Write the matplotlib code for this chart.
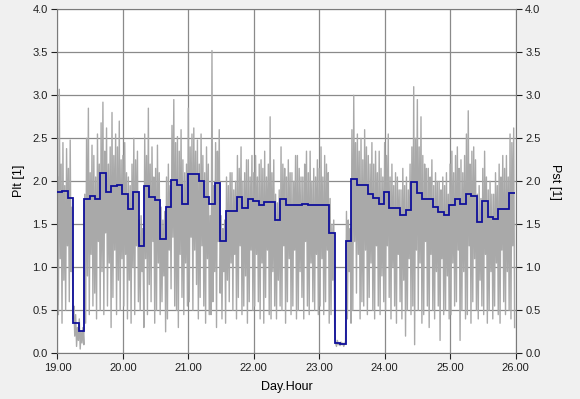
import numpy as np
from matplotlib import pyplot as plt

# Pst, one value per 20 minutes, one list per day (19.00 .. 25.xx)
pst_day19 = [2.05, 0.45, 3.07, 1.10, 2.20, 0.35, 2.45, 0.85, 1.95, 0.50, 2.38, 1.25,
             2.15, 0.60, 2.48, 0.95, 1.70, 0.40, 0.55, 0.20, 0.45, 0.08, 0.30, 0.15,
             0.40, 0.05, 0.25, 0.12, 0.30, 0.10, 1.85, 0.35, 2.50, 0.90, 2.85, 0.45,
             2.10, 1.15, 2.42, 0.55, 2.30, 0.70, 2.05, 0.40, 2.55, 1.30, 2.20, 0.50,
             2.68, 0.95, 2.92, 0.45, 2.35, 1.40, 2.62, 0.55, 2.20, 1.05, 2.40, 0.30,
             2.80, 0.65, 2.30, 1.20, 2.55, 0.45, 2.40, 0.85, 2.70, 0.50, 2.25, 1.10]
pst_day20 = [2.30, 0.55, 2.45, 1.15, 2.10, 0.40, 2.05, 0.85, 1.95, 0.35, 2.20, 1.00,
             2.50, 0.45, 2.25, 1.25, 2.35, 0.60, 1.55, 0.50, 1.60, 0.95, 1.45, 0.30,
             2.55, 1.10, 2.30, 0.45, 2.85, 0.80, 2.20, 0.60, 2.40, 1.30, 2.05, 0.35,
             2.15, 0.50, 2.42, 1.05, 2.10, 0.45, 1.70, 0.60, 1.55, 0.90, 1.65, 0.25,
             2.05, 0.40, 2.20, 1.20, 1.95, 0.75, 2.65, 1.35, 2.95, 0.55, 2.45, 0.50,
             2.52, 0.30, 2.35, 1.15, 2.60, 0.65, 2.25, 0.45, 2.10, 1.05, 2.20, 0.55]
pst_day21 = [2.85, 0.60, 2.40, 1.35, 2.55, 0.50, 2.62, 1.20, 2.35, 0.80, 2.48, 0.40,
             2.20, 0.65, 2.55, 1.25, 2.30, 0.55, 2.10, 0.35, 2.40, 1.10, 2.20, 0.45,
             1.60, 0.45, 3.52, 0.60, 1.95, 0.95, 2.45, 0.30, 2.35, 1.30, 2.60, 0.70,
             1.60, 0.40, 1.45, 0.95, 1.55, 0.35, 2.05, 0.85, 1.95, 0.60, 2.10, 1.05,
             2.10, 0.50, 1.90, 1.15, 2.00, 0.40, 2.30, 0.65, 2.15, 1.25, 2.40, 0.45,
             2.00, 0.55, 2.10, 0.90, 2.25, 0.35, 2.25, 0.60, 2.05, 1.20, 2.30, 0.50]
pst_day22 = [2.10, 0.55, 2.30, 1.15, 2.05, 0.60, 2.20, 0.40, 2.25, 1.05, 2.15, 0.35,
             2.35, 0.65, 2.05, 1.20, 2.20, 0.45, 2.75, 0.40, 2.10, 0.95, 2.25, 0.55,
             1.85, 0.40, 1.75, 0.85, 1.90, 0.55, 2.40, 0.50, 2.20, 1.25, 2.15, 0.35,
             2.05, 0.60, 2.25, 1.10, 2.10, 0.45, 2.10, 0.55, 2.00, 1.20, 2.30, 0.40,
             2.30, 0.50, 2.15, 0.95, 2.05, 0.65, 2.05, 0.40, 2.20, 1.30, 2.35, 0.55,
             2.10, 0.45, 2.35, 1.05, 2.00, 0.60, 2.15, 0.50, 2.05, 1.15, 2.25, 0.45]
pst_day23 = [2.15, 0.55, 2.40, 1.10, 2.05, 0.45, 2.30, 0.60, 2.20, 1.20, 2.10, 0.35,
             1.80, 0.45, 1.50, 0.85, 1.55, 0.30, 0.12, 0.08, 0.15, 0.10, 0.11, 0.09,
             0.13, 0.10, 0.12, 0.08, 0.11, 0.14, 1.65, 0.40, 1.55, 0.95, 1.45, 0.35,
             2.60, 0.50, 3.00, 1.30, 2.45, 0.70, 2.55, 1.15, 2.35, 0.40, 2.50, 0.60,
             2.25, 0.55, 2.60, 1.20, 2.40, 0.45, 2.30, 0.65, 2.20, 1.05, 2.45, 0.50,
             2.20, 0.40, 2.35, 1.25, 2.10, 0.55, 2.35, 0.45, 2.15, 0.90, 2.05, 0.60]
pst_day24 = [2.45, 0.50, 2.30, 1.25, 2.55, 0.65, 2.05, 0.40, 2.20, 1.00, 1.95, 0.55,
             2.10, 0.35, 2.05, 1.15, 1.90, 0.60, 1.90, 0.40, 2.15, 0.85, 1.95, 0.20,
             2.05, 0.50, 1.90, 1.10, 2.20, 0.45, 2.40, 0.55, 3.10, 0.10, 2.50, 1.20,
             2.95, 0.50, 2.40, 1.05, 2.75, 0.35, 2.30, 0.45, 2.20, 1.30, 2.15, 0.55,
             2.15, 0.30, 2.05, 1.15, 2.25, 0.50, 1.95, 0.40, 2.10, 0.95, 2.00, 0.55,
             2.00, 0.15, 1.90, 1.10, 2.05, 0.45, 1.95, 0.50, 2.10, 0.90, 1.85, 0.40]
pst_day25 = [2.20, 0.45, 2.35, 1.05, 2.10, 0.55, 2.30, 0.60, 2.40, 1.20, 2.15, 0.15,
             2.25, 0.50, 2.10, 0.95, 2.30, 0.40, 2.55, 0.45, 2.82, 1.25, 2.20, 0.35,
             2.35, 0.60, 2.40, 1.10, 2.25, 0.50, 1.85, 0.40, 1.95, 0.85, 1.80, 0.55,
             2.15, 0.45, 2.35, 1.15, 2.05, 0.35, 1.90, 0.50, 2.00, 0.95, 1.85, 0.40,
             1.85, 0.55, 2.10, 1.05, 1.95, 0.45, 2.20, 0.35, 2.05, 1.20, 2.30, 0.60,
             2.15, 0.45, 2.30, 0.95, 2.05, 0.50, 2.55, 0.40, 2.45, 1.25, 2.62, 0.30]

# Plt, one value per 2 hour block, first block starts 19.00 - 0.25 h
plt_values = [1.88, 1.89, 1.81, 0.35, 0.26, 1.80, 1.83, 1.80, 2.10, 1.87, 1.94, 1.96,
              1.85, 1.68, 1.88, 1.25, 1.94, 1.82, 1.78, 1.33, 1.70, 2.02, 1.96, 1.74,
              2.08, 2.08, 2.00, 1.82, 1.74, 1.98, 1.31, 1.65, 1.65, 1.82, 1.69, 1.79,
              1.77, 1.72, 1.76, 1.76, 1.55, 1.79, 1.72, 1.72, 1.72, 1.74, 1.72, 1.73,
              1.72, 1.73, 1.40, 0.12, 0.11, 1.31, 2.03, 1.96, 1.96, 1.85, 1.81, 1.74,
              1.88, 1.69, 1.69, 1.61, 1.67, 1.99, 1.86, 1.80, 1.80, 1.70, 1.64, 1.61,
              1.73, 1.79, 1.74, 1.85, 1.83, 1.53, 1.77, 1.58, 1.56, 1.68, 1.68, 1.86]

x_ticks = [19, 20, 21, 22, 23, 24, 25, 26]
x_tick_labels = ["19.00", "20.00", "21.00", "22.00", "23.00", "24.00", "25.00", "26.00"]
y_ticks = [0.0, 0.5, 1.0, 1.5, 2.0, 2.5, 3.0, 3.5, 4.0]

plt.rcParams["font.family"] = ["Liberation Sans", "DejaVu Sans"]

pst = pst_day19 + pst_day20 + pst_day21 + pst_day22 + pst_day23 + pst_day24 + pst_day25
pst_time = 19 + np.arange(len(pst)) * (20 / 60) / 24
plt_edges = 19 + (np.arange(len(plt_values) + 1) * 2 - 0.25) / 24

fig = plt.figure(figsize=(5.8, 3.99), dpi=100, facecolor="#f0f0f0")
ax = fig.add_axes([0.0991, 0.1145, 0.7897, 0.8622])
ax.set_facecolor("white")

ax.plot(pst_time, pst, color="#a9a9a9", lw=1.0, zorder=2)
ax.stairs(plt_values, plt_edges, baseline=None, color="#10109a", lw=1.3, zorder=3)

ax.set_xlim(19, 26)
ax.set_ylim(0, 4)
ax.set_xticks(x_ticks)
ax.set_xticklabels(x_tick_labels)
ax.set_yticks(y_ticks)
ax.set_yticklabels([f"{v:.1f}" for v in y_ticks])

ax.grid(True, color="#8a8a8a", lw=0.9)
ax.set_axisbelow(True)
for spine in ax.spines.values():
    spine.set_color("#7a7a7a")

ax.tick_params(axis="both", labelsize=8, colors="#202020", length=4, pad=3)
ax.tick_params(axis="y", right=True, labelright=True)

ax.set_xlabel("Day.Hour", fontsize=9, labelpad=6)
ax.set_ylabel("Plt [1]", fontsize=9, labelpad=5)
fig.text(0.957, 0.545, "Pst [1]", rotation=270, fontsize=9, ha="center", va="center")

fig.savefig("out.png", dpi=100, facecolor=fig.get_facecolor())
